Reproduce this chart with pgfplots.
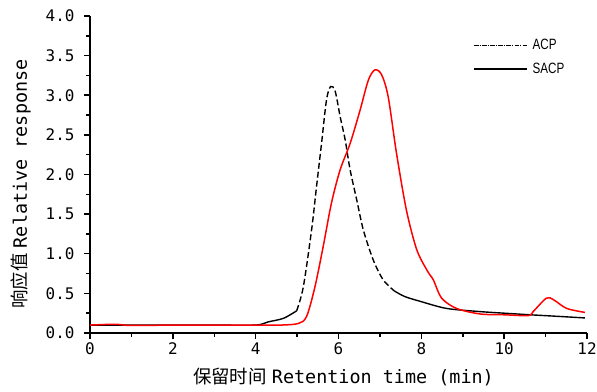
\documentclass[border=0pt]{standalone}
\usepackage{fontspec}
\usepackage{graphicx}
\usepackage{pgfplots}
\pgfplotsset{compat=1.18}
\usetikzlibrary{calc}
\setmainfont{Liberation Sans}
\newfontfamily\cjk{Noto Sans CJK SC}
\newfontfamily\mono{DejaVu Sans Mono}
\begin{document}
\begin{tikzpicture}
\begin{axis}[
  scale only axis, width=497bp, height=317bp,
  xmin=0, xmax=12, ymin=0, ymax=4,
  axis x line*=bottom, axis y line*=left,
  axis line style={line width=1.4pt, -},
  xtick={0,2,...,12}, minor xtick={1,3,...,11},
  ytick={0,0.5,...,4}, minor ytick={0.25,0.75,...,3.75},
  yticklabel={\pgfmathprintnumber[fixed,fixed zerofill,precision=1]{\tick}},
  xticklabel={\pgfmathprintnumber{\tick}},
  /pgf/number format/assume math mode=true,
  tick label style={font=\mono\fontsize{16}{16}\selectfont},
  yticklabel style={xshift=-6bp},
  xtick align=outside, ytick align=outside,
  major tick length=6bp, minor tick length=4bp,
  tick style={line width=1.5pt, black},
  clip=false,
  xlabel={{\cjk 保留时间} {\mono Retention time (min)}},
  ylabel={{\cjk 响应值} {\mono Relative response}},
  label style={font=\fontsize{18.5}{18.5}\selectfont},
  xlabel style={at={(rel axis cs:0.51,-0.139)}, anchor=center},
  ylabel style={at={(rel axis cs:-0.139,0.47)}, anchor=center},
  legend style={draw=none, fill=none, at={(rel axis cs:0.765,0.94)}, anchor=north west,
    font=\fontsize{15}{15}\selectfont, row sep=8bp, column sep=3bp, cells={anchor=west}},
  legend cell align=left,
  legend image code/.code={\draw[#1] (0bp,0bp) -- (53bp,0bp);},
]
\addlegendimage{black, line width=1.3pt, dash pattern=on 4.5bp off 1.2bp on 1.2bp off 1.2bp}
\addlegendentry{\scalebox{0.78}[1]{ACP}}
\addlegendimage{black, line width=1.3pt}
\addlegendentry{\scalebox{0.78}[1]{SACP}}
% ACP solid baseline
\addplot[black, line width=1.4pt, smooth] coordinates {
(0,0.10) (1,0.10) (2,0.10) (3,0.10) (4,0.10) (4.30,0.14) (4.67,0.185) (4.99,0.28)
};
% ACP dashed peak
\addplot[black, line width=1.4pt, smooth, dash pattern=on 6bp off 3bp] coordinates {
(4.99,0.28) (5.15,0.58) (5.35,1.30) (5.47,1.85) (5.59,2.39) (5.71,2.94) (5.81,3.11)
(5.92,3.05) (6.04,2.73) (6.16,2.44) (6.28,2.06) (6.44,1.68) (6.60,1.30) (6.84,0.92) (7.08,0.67) (7.35,0.53)
};
% ACP solid tail
\addplot[black, line width=1.4pt, smooth] coordinates {
(7.35,0.53) (7.60,0.46) (7.97,0.40) (8.61,0.31) (9.42,0.27) (10.0,0.25) (10.62,0.23) (11.3,0.21) (11.95,0.19)
};
% SACP
\addplot[red, line width=1.5pt, smooth] coordinates {
(0,0.10) (0.6,0.11) (1,0.095) (2,0.10) (3,0.10) (4,0.10) (4.6,0.10) (5.03,0.12) (5.23,0.21) (5.43,0.58) (5.63,1.09)
(5.83,1.64) (6.04,2.06) (6.28,2.39) (6.52,2.81) (6.72,3.19) (6.88,3.32) (7.04,3.26)
(7.20,2.98) (7.40,2.27) (7.64,1.55) (7.89,1.05) (8.15,0.78) (8.29,0.67) (8.49,0.44)
(8.85,0.31) (9.42,0.24) (10.0,0.23) (10.58,0.22) (10.70,0.27) (11.02,0.44) (11.19,0.42)
(11.51,0.31) (11.95,0.26)
};
\end{axis}
\pgfresetboundingbox
\useasboundingbox ($(current axis.south west)+(-90bp,-59bp)$) rectangle ($(current axis.north east)+(10bp,16bp)$);
\end{tikzpicture}
\end{document}
